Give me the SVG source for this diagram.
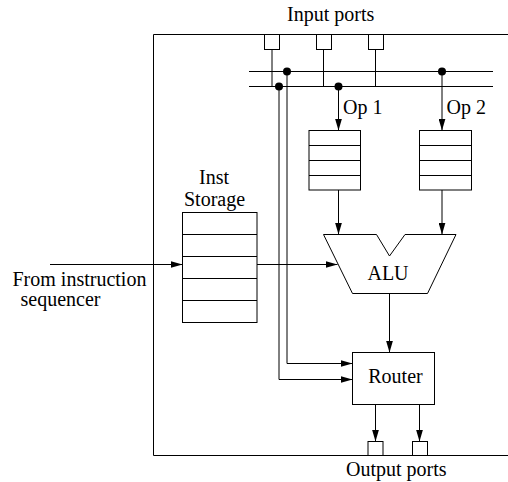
<svg xmlns="http://www.w3.org/2000/svg" width="508" height="482" viewBox="0 0 508 482">
<style>
.ln{fill:none;stroke:#000;stroke-width:1}
.bx{fill:#fff;stroke:#000;stroke-width:1}
.t{font-family:"Liberation Serif","Times New Roman",serif;font-size:20px;fill:#000}
.m{text-anchor:middle}
</style>
<defs>
<marker id="ah" markerUnits="userSpaceOnUse" markerWidth="12" markerHeight="7" refX="12" refY="3.5" orient="auto">
<path d="M0,0 L12,3.5 L0,7 z" fill="#000"/>
</marker>
</defs>
<rect width="508" height="482" fill="#fff"/>
<g id="tile">
<path class="ln" d="M510,34.5 H153.5 V455.5 H510"/>
</g>
<g id="connectors">
<path class="ln" d="M249,71.5 H493 M249,86.5 H493"/>
<path class="ln" d="M272,49.5 V86.5 M323.5,49.5 V86.5 M375.5,49.5 V86.5"/>
<circle cx="287" cy="71.5" r="4"/>
<circle cx="279" cy="86.5" r="4"/>
<circle cx="338.5" cy="86.5" r="4"/>
<circle cx="442" cy="71.5" r="4"/>
<path class="ln" d="M338.5,86.5 V130.5" marker-end="url(#ah)"/>
<path class="ln" d="M442,71.5 V130.5" marker-end="url(#ah)"/>
<path class="ln" d="M338.5,190 V234.5" marker-end="url(#ah)"/>
<path class="ln" d="M442,190 V234.5" marker-end="url(#ah)"/>
<path class="ln" d="M50,264.5 H182.5" marker-end="url(#ah)"/>
<path class="ln" d="M257,264.5 H337.5" marker-end="url(#ah)"/>
<path class="ln" d="M389.5,293.5 V352.5" marker-end="url(#ah)"/>
<path class="ln" d="M287,71.5 V363.5 H352.5" marker-end="url(#ah)"/>
<path class="ln" d="M279,86.5 V379.5 H352.5" marker-end="url(#ah)"/>
<path class="ln" d="M375.5,404.5 V441.5" marker-end="url(#ah)"/>
<path class="ln" d="M419.5,404.5 V441.5" marker-end="url(#ah)"/>
</g>
<g id="input-ports">
<rect class="bx" x="264.5" y="34.5" width="15" height="15"/>
<rect class="bx" x="316.5" y="34.5" width="15" height="15"/>
<rect class="bx" x="368.5" y="34.5" width="15" height="15"/>
<text class="t" x="287" y="21">Input ports</text>
</g>
<g id="op1-queue">
<rect class="bx" x="309" y="130.5" width="51.5" height="59.5"/>
<path class="ln" d="M309,145.5 H360.5 M309,160.5 H360.5 M309,175.5 H360.5"/>
<text class="t" x="343" y="113.5">Op 1</text>
</g>
<g id="op2-queue">
<rect class="bx" x="419.5" y="130.5" width="52" height="59.5"/>
<path class="ln" d="M419.5,145.5 H471.5 M419.5,160.5 H471.5 M419.5,175.5 H471.5"/>
<text class="t" x="446.5" y="113.5">Op 2</text>
</g>
<g id="inst-storage">
<rect class="bx" x="182.5" y="212.5" width="74.5" height="110"/>
<path class="ln" d="M182.5,234.5 H257 M182.5,256.5 H257 M182.5,278.5 H257 M182.5,300.5 H257"/>
<text class="t m" x="214" y="183.5">Inst</text>
<text class="t m" x="214.5" y="205.5">Storage</text>
</g>
<g id="alu">
<polygon class="bx" points="323.5,234.5 376.5,234.5 389.5,256 405,234.5 456,234.5 427.5,293.5 352.5,293.5"/>
<text class="t m" x="388" y="279.5">ALU</text>
</g>
<g id="router">
<rect class="bx" x="352.5" y="352.5" width="82" height="52"/>
<text class="t m" x="395.5" y="382.5">Router</text>
</g>
<g id="output-ports">
<rect class="bx" x="368" y="441.5" width="15" height="14"/>
<rect class="bx" x="412.5" y="441.5" width="15" height="14"/>
<text class="t" x="346" y="475.5">Output ports</text>
</g>
<g id="sequencer">
<text class="t" x="12.5" y="286">From instruction</text>
<text class="t" x="20.5" y="306">sequencer</text>
</g>
</svg>
